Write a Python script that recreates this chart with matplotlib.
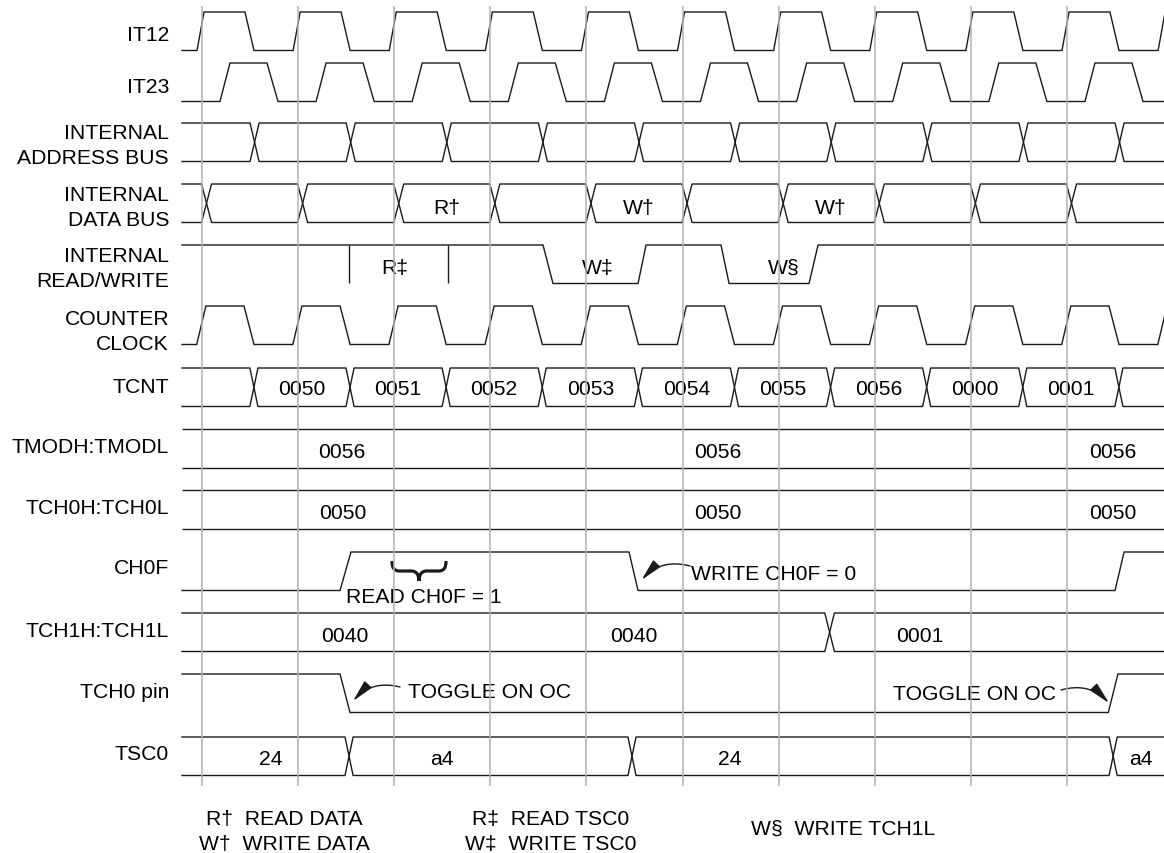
import matplotlib
matplotlib.use("Agg")
import matplotlib.pyplot as plt
from matplotlib.path import Path
from matplotlib.patches import PathPatch

plt.rcParams['font.family'] = ['Liberation Sans', 'DejaVu Sans']

# ---------------- data: times in clock cycles (grid line k is at t = k) ----------------
signal_names = [
    ["IT12"], ["IT23"], ["INTERNAL", "ADDRESS BUS"], ["INTERNAL", "DATA BUS"],
    ["INTERNAL", "READ/WRITE"], ["COUNTER", "CLOCK"], ["TCNT"], ["TMODH:TMODL"],
    ["TCH0H:TCH0L"], ["CH0F"], ["TCH1H:TCH1L"], ["TCH0 pin"], ["TSC0"],
]
grid_cycles = list(range(10))

# clock-like signals: (rise start, rise end, fall start, fall end) inside each cycle
it12_shape = (-0.052, 0.021, 0.447, 0.541)
it23_shape = (0.187, 0.291, 0.676, 0.791)
counter_clock_shape = (-0.055, 0.040, 0.437, 0.541)

# bus crossings (offset inside each cycle)
address_cross = 0.547
data_cross = 0.047
tcnt_cross = 0.540
data_bus_labels = ["", "", "R†", "", "W†", "", "W†", "", ""]
tcnt_values = ["0050", "0051", "0052", "0053", "0054", "0055", "0056", "0000", "0001"]

# level signals: start level and edges (start, end)
rw_start = 1
rw_edges = [(3.548, 3.652), (4.537, 4.620), (5.400, 5.484), (6.316, 6.410)]
rw_read_marks = [1.530, 2.560]
rw_labels = [("R‡", 2.010), ("W‡", 4.120), ("W§", 6.050)]

ch0f_start = 0
ch0f_edges = [(1.436, 1.550), (4.443, 4.537), (9.500, 9.594)]
tch0_pin_start = 1
tch0_pin_edges = [(1.436, 1.540), (9.430, 9.530)]

# register rows
tmod_values = [("0056", 1.457), ("0056", 5.369), ("0056", 9.479)]
tch0_values = [("0050", 1.467), ("0050", 5.369), ("0050", 9.479)]
tch1_cross = [6.530]
tch1_values = [("0040", 1.488), ("0040", 4.495), ("0001", 7.470)]
tsc0_cross = [1.530, 4.474, 9.480]
tsc0_values = [("24", 0.718), ("a4", 2.497), ("24", 5.494), ("a4", 9.770)]

footnotes = [(["R†  READ DATA", "W†  WRITE DATA"], 0.855),
             (["R‡  READ TSC0", "W‡  WRITE TSC0"], 3.631),
             (["W§  WRITE TCH1L"], 6.669)]

# ---------------- layout ----------------
W, H, DPI = 1164, 854, 100
X0, P = 202.0, 96.11          # pixel of grid line 0, pixels per cycle
row_top = [13, 64, 124, 185, 246, 307, 369, 430, 491, 553, 614, 675, 738]
ROW_H = 38.5
label_y = [[33], [85.5], [131, 156], [193.5, 218.5], [254.5, 279.5], [317.5, 342.5],
           [385], [445.5], [506.5], [566.5], [629.5], [690], [752]]
LABEL_RIGHT = 169
FS = 15.2
FS_PX = FS * DPI / 72
CAP = 0.716 * FS_PX
LW = 1.0
LC = '#1a1a1a'


def T(px):
    return (px - X0) / P


t_start, t_end = T(182), T(1180)

fig = plt.figure(figsize=(W / DPI, H / DPI), dpi=DPI)
ax = fig.add_axes([0, 0, 1, 1])
ax.set_xlim(T(0), T(W))
ax.set_ylim(H, 0)
ax.axis('off')


def put(t, yc, s, ha='center'):
    ax.text(t, yc + CAP / 2, s, ha=ha, va='baseline', fontsize=FS, color='black')


def yl(top, lv):
    return top + (1 - lv) * ROW_H


def level_wave(top, start_level, edges):
    lv = start_level
    xs, ys = [t_start], [yl(top, lv)]
    for a, b in edges:
        xs += [a, b]
        ys += [yl(top, lv), yl(top, 1 - lv)]
        lv = 1 - lv
    xs.append(t_end)
    ys.append(yl(top, lv))
    ax.plot(xs, ys, color=LC, lw=LW, solid_joinstyle='miter')


def clock_edges(shape):
    r0, r1, f0, f1 = shape
    edges = []
    for k in range(-1, 12):
        for e in [(k + r0, k + r1), (k + f0, k + f1)]:
            if e[0] > t_start:
                edges.append(e)
    return edges


def bus(top, crosses, hw):
    yt, yb = top, top + ROW_H
    for first, second in [(yt, yb), (yb, yt)]:
        xs, ys = [t_start], [first]
        cur, other = first, second
        for c in crosses:
            xs += [c - hw, c + hw]
            ys += [cur, other]
            cur, other = other, cur
        xs.append(t_end)
        ys.append(cur)
        ax.plot(xs, ys, color=LC, lw=LW)


def seg_centers(crosses):
    return [(a + b) / 2 for a, b in zip(crosses[:-1], crosses[1:])]


# labels
for names, ys in zip(signal_names, label_y):
    for n, y in zip(names, ys):
        put(T(LABEL_RIGHT), y, n, ha='right')

# IT12 / IT23 / counter clock
level_wave(row_top[0], 0, clock_edges(it12_shape))
level_wave(row_top[1], 0, clock_edges(it23_shape))
level_wave(row_top[5], 0, clock_edges(counter_clock_shape))

# address bus
bus(row_top[2], [k + address_cross for k in grid_cycles], 0.047)

# data bus
dc = [k + data_cross for k in grid_cycles]
bus(row_top[3], dc, 0.052)
for s, c in zip(data_bus_labels, seg_centers(dc)):
    if s:
        put(c, row_top[3] + ROW_H / 2 + 2.5, s)

# read / write
level_wave(row_top[4], rw_start, rw_edges)
ax.vlines(rw_read_marks, row_top[4], row_top[4] + ROW_H - 1, color=LC, lw=LW)
for s, t in rw_labels:
    put(t, row_top[4] + 20, s)

# TCNT
tc = [k + tcnt_cross for k in grid_cycles]
bus(row_top[6], tc, 0.042)
for s, c in zip(tcnt_values, seg_centers(tc)):
    put(c, row_top[6] + 18.5, s)

# TMOD, TCH0 registers
for r, vals in [(7, tmod_values), (8, tch0_values)]:
    ax.hlines([row_top[r], row_top[r] + ROW_H], t_start, t_end, color=LC, lw=LW)
    for s, t in vals:
        put(t, row_top[r] + 20.5, s)

# CH0F
level_wave(row_top[9], ch0f_start, ch0f_edges)

# TCH1
bus(row_top[10], tch1_cross, 0.05)
for s, t in tch1_values:
    put(t, row_top[10] + 20, s)

# TCH0 pin
level_wave(row_top[11], tch0_pin_start, tch0_pin_edges)

# TSC0
bus(row_top[12], tsc0_cross, 0.042)
for s, t in tsc0_values:
    put(t, row_top[12] + 19.5, s)

# annotations
# brace
bx0, bx1 = T(392), T(446)
bm = (bx0 + bx1) / 2
d1, d2, d3 = 8 / P, 2 / P, 3 / P
yt_, ym_, yb_ = 562, 572, 582
verts = [(bx0, yt_), (bx0, 569), (bx0 + d2, ym_), (bx0 + d1, ym_),
         (bm - d1, ym_),
         (bm - d3, ym_), (bm, 575), (bm, yb_),
         (bm, 575), (bm + d3, ym_), (bm + d1, ym_),
         (bx1 - d1, ym_),
         (bx1 - d2, ym_), (bx1, 569), (bx1, yt_)]
codes = [Path.MOVETO, Path.CURVE4, Path.CURVE4, Path.CURVE4,
         Path.LINETO,
         Path.CURVE4, Path.CURVE4, Path.CURVE4,
         Path.CURVE4, Path.CURVE4, Path.CURVE4,
         Path.LINETO,
         Path.CURVE4, Path.CURVE4, Path.CURVE4]
ax.add_patch(PathPatch(Path(verts, codes), fill=False, lw=2.3, color=LC))
put(T(346), 595.5, "READ CH0F = 1", ha='left')

arrow_style = dict(arrowstyle="-|>,head_length=1.35,head_width=0.3", color=LC, lw=LW,
                   shrinkA=0, shrinkB=0, mutation_scale=10)
ax.annotate("", xy=(T(641.5), 581), xytext=(T(690), 567),
            arrowprops=dict(connectionstyle="arc3,rad=0.3", **arrow_style))
put(T(691), 572, "WRITE CH0F = 0", ha='left')

ax.annotate("", xy=(T(353), 702), xytext=(T(400), 688),
            arrowprops=dict(connectionstyle="arc3,rad=0.3", **arrow_style))
put(T(408), 690.5, "TOGGLE ON OC", ha='left')

ax.annotate("", xy=(T(1109), 704), xytext=(T(1061), 691),
            arrowprops=dict(connectionstyle="arc3,rad=-0.3", **arrow_style))
put(T(1056), 692, "TOGGLE ON OC", ha='right')

# footnotes
for lines, c in footnotes:
    ys = [817, 842] if len(lines) == 2 else [827]
    for s, y in zip(lines, ys):
        put(c, y, s)

# grid lines
ax.vlines(grid_cycles, 7, 787, color='#b3b3b3', lw=1.1, zorder=5)

fig.savefig("out.png", dpi=DPI)
